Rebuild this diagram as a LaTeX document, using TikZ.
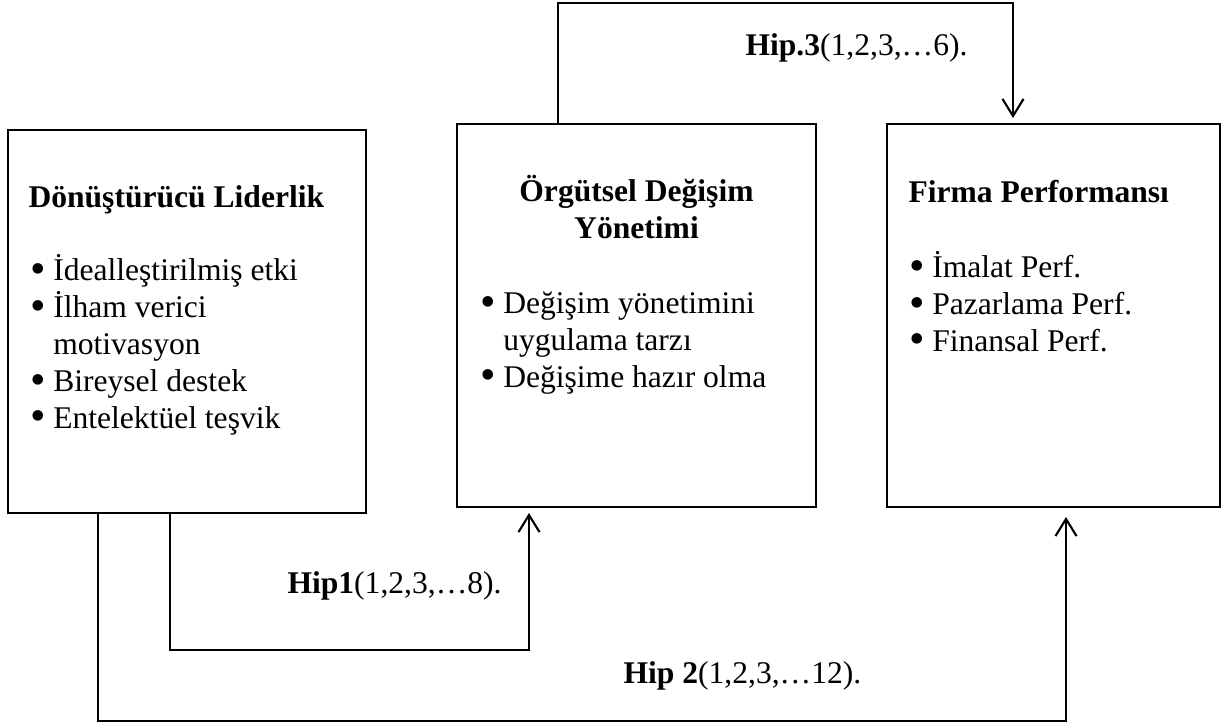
\documentclass[tikz,border=0pt]{standalone}
\usepackage{fontspec}
\setmainfont{Liberation Serif}
\usetikzlibrary{arrows.meta}
\usetikzlibrary{calc}

\newcommand{\blt}{\makebox[0.72em][l]{\raisebox{-1.1pt}{\scalebox{1.4}{\textbullet}}}}

\begin{document}
\begin{tikzpicture}[x=0.38pt,y=-0.38pt,
  box/.style={draw,line width=0.8pt,inner sep=0pt,minimum height=145.5pt},
  txt/.style={inner sep=0pt,anchor=base west,align=left,font=\fontsize{12}{14}\selectfont},
  conn/.style={line width=0.8pt,-{Straight Barb[length=6.5pt,width=8pt]}}]
  \useasboundingbox (0,0) rectangle (1222,723);

  % boxes
  \node[box,minimum width=136pt] (dl) at (187,321.5) {};
  \node[box,minimum width=136.4pt] (ody) at (636.5,315.5) {};
  \node[box,minimum width=126.5pt] (fp) at (1053.5,315.5) {};

  % texts (multi-line nodes sit on their last line)
  \node[txt] (dltitle) at (28,207) {\textbf{Dönüştürücü Liderlik}};
  \node[txt] (dllist) at (30,428) {\blt İdealleştirilmiş etki\\ \blt İlham verici\\ \hphantom{\blt}motivasyon\\ \blt Bireysel destek\\ \blt Entelektüel teşvik};
  \node[txt,anchor=base,align=center] (odytitle) at (636.5,238) {\textbf{Örgütsel Değişim}\\ \textbf{Yönetimi}};
  \node[txt] (odylist) at (480,387) {\blt Değişim yönetimini\\ \hphantom{\blt}uygulama tarzı\\ \blt Değişime hazır olma};
  \node[txt] (fptitle) at (908,202) {\textbf{Firma Performansı}};
  \node[txt] (fplist) at (909,351) {\blt İmalat Perf.\\ \blt Pazarlama Perf.\\ \blt Finansal Perf.};

  % arrows
  \coordinate (h3a) at (558,3);
  \coordinate (h3b) at (1013,3);
  \draw[conn,shorten >=1.9pt] (ody.north -| h3a) -- (h3a) -- (h3b) -- (fp.north -| h3b);
  \coordinate (h1a) at (170,650);
  \coordinate (h1b) at (529,650);
  \draw[conn,shorten >=1.9pt] (dl.south -| h1a) -- (h1a) -- (h1b) -- (ody.south -| h1b);
  \coordinate (h2a) at (98,721);
  \coordinate (h2b) at (1066,721);
  \draw[conn,shorten >=3.4pt] (dl.south -| h2a) -- (h2a) -- (h2b) -- (fp.south -| h2b);

  % labels
  \node[txt] (hip3) at (745,55) {\textbf{Hip.3}(1,2,3,…6).};
  \node[txt] (hip1) at (287,593) {\textbf{Hip1}(1,2,3,…8).};
  \node[txt] (hip2) at (623,683) {\textbf{Hip 2}(1,2,3,…12).};
\end{tikzpicture}
\end{document}
